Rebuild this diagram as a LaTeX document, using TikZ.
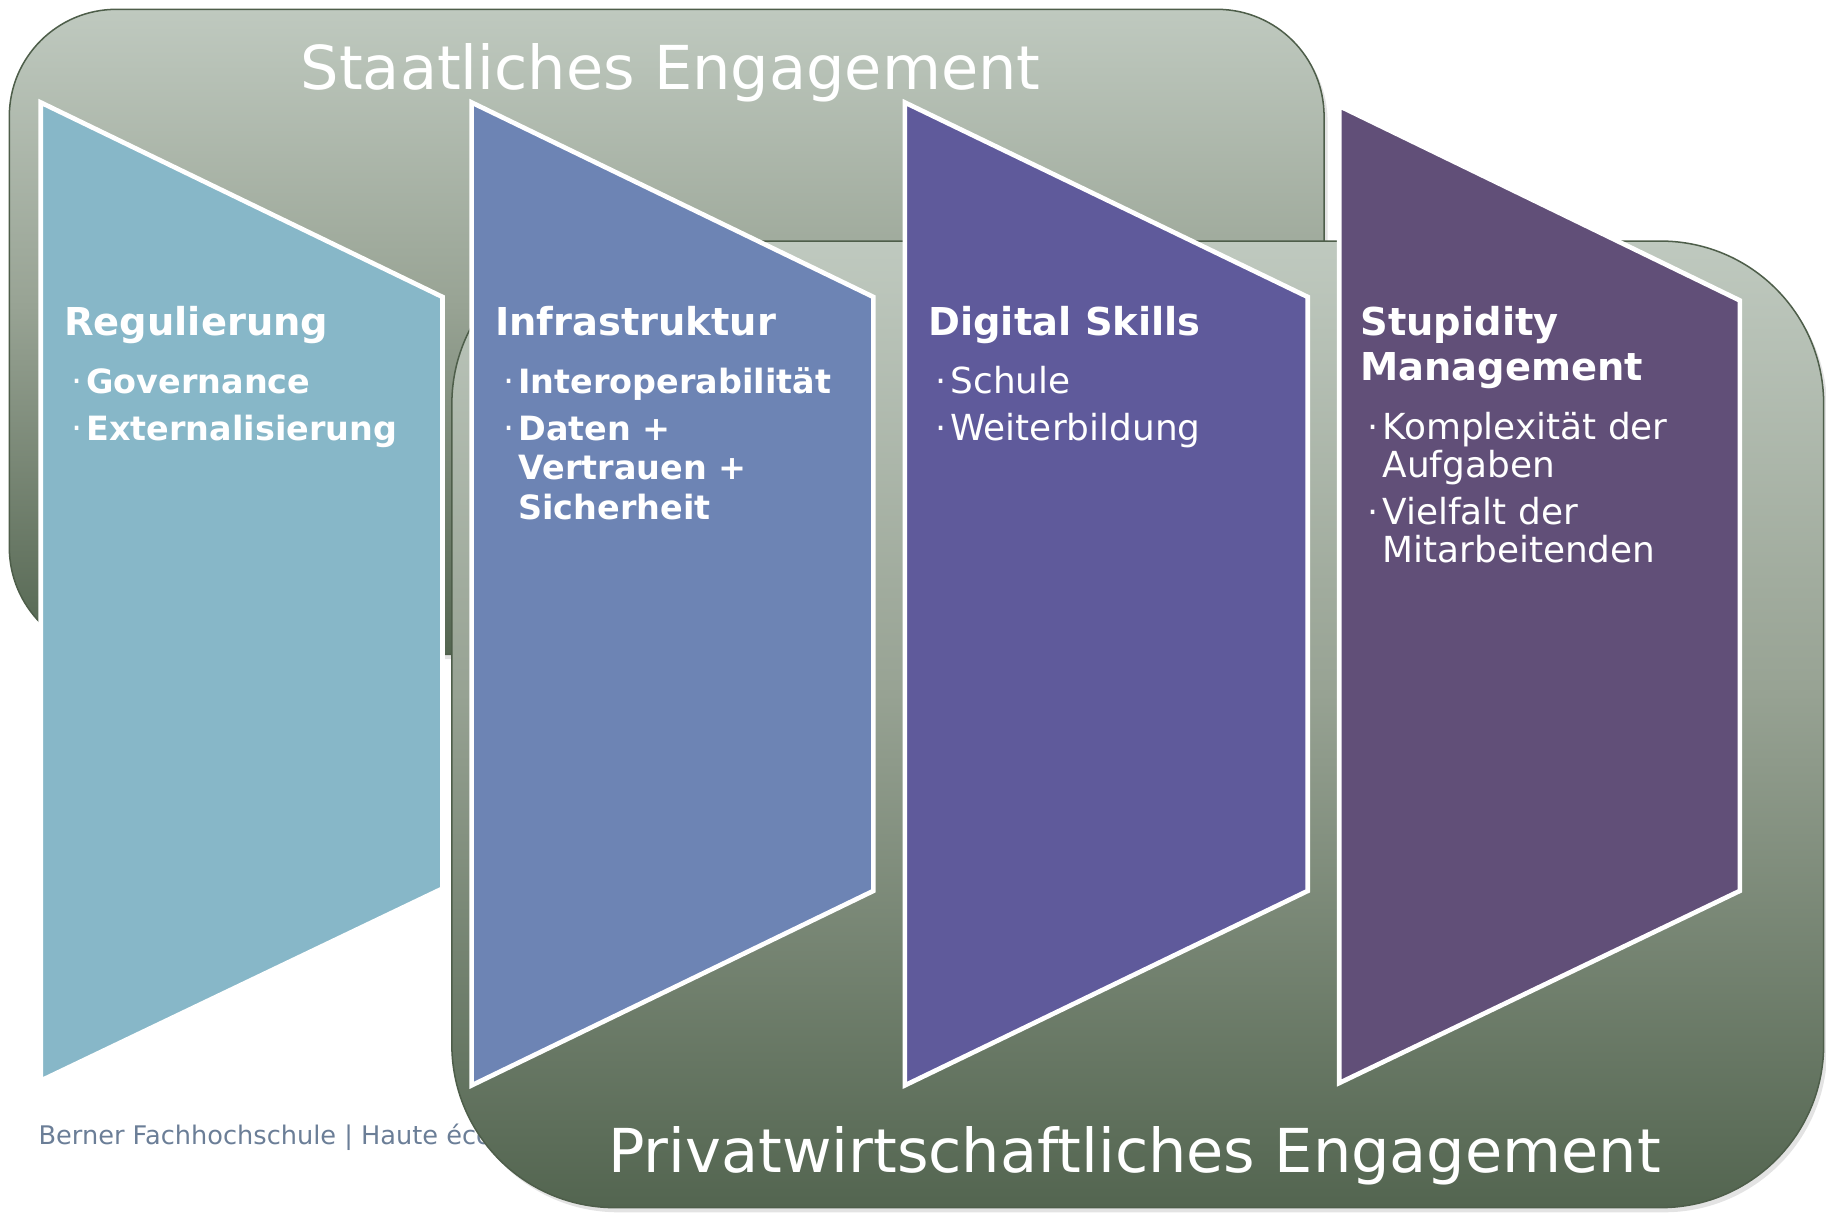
\documentclass[tikz,border=0pt]{standalone}
\usepackage{fontspec}
\setmainfont{DejaVu Sans}
\usetikzlibrary{shadows}
\definecolor{bxdark}{HTML}{536550}
\definecolor{bxmid}{HTML}{98A394}
\definecolor{bxlight}{HTML}{BFC9BF}
\definecolor{bxline}{HTML}{4E5E4A}
\definecolor{sone}{HTML}{87B7C8}
\definecolor{stwo}{HTML}{6D84B4}
\definecolor{sthree}{HTML}{5F5A9B}
\definecolor{sfour}{HTML}{614F78}
\definecolor{foot}{HTML}{6B7E97}
\pgfdeclareverticalshading{boxshade}{100bp}{color(0bp)=(bxdark); color(25bp)=(bxdark); color(52bp)=(bxmid); color(75bp)=(bxlight); color(100bp)=(bxlight)}
\tikzset{
  bgbox/.style={draw=bxline, line width=1.3pt, shading=boxshade,
    drop shadow={shadow xshift=3pt, shadow yshift=-4pt, opacity=0.22}},
  panel/.style={draw=white, line width=4pt, line join=miter},
  titletext/.style={anchor=base west, inner sep=0pt, text=white, font=\fontsize{52}{60}\selectfont},
  headtext/.style={anchor=base west, inner sep=0pt, text=white, font=\bfseries\fontsize{33}{38}\selectfont},
  itembold/.style={anchor=base west, inner sep=0pt, text=white, font=\bfseries\fontsize{28.7}{34}\selectfont},
  itemreg/.style={anchor=base west, inner sep=0pt, text=white, font=\fontsize{30.8}{34}\selectfont},
  foottext/.style={anchor=base west, inner sep=0pt, text=foot, font=\fontsize{22}{26}\selectfont}
}
\newcommand{\bul}{\makebox[13pt][l]{\mdseries\fontsize{30}{30}\selectfont·}}
\begin{document}
\begin{tikzpicture}[x=1pt,y=-1pt]
\useasboundingbox (0,0) rectangle (1568,1042);
% upper background box
\path[bgbox, rounded corners=92pt] (8,8) rectangle (1137,562);
\node[titletext] (t1) at (258,77) {Staatliches Engagement};
% footer (partly hidden)
\node[foottext] (ft) at (33,983) {Berner Fachhochschule | Haute école};
% lower background box
\path[bgbox, rounded corners=140pt] (388,207) rectangle (1566,1037);
\node[titletext] (t2) at (522,1007) {Privatwirtschaftliches Engagement};
% panels
\path[panel, fill=sone] (35,88) -- (380,255) -- (380,763) -- (35,928) -- cycle;
\path[panel, fill=stwo] (405,88) -- (750,255) -- (750,765) -- (405,932) -- cycle;
\path[panel, fill=sthree] (777,88) -- (1123,255) -- (1123,765) -- (777,932) -- cycle;
\path[panel, fill=sfour] (1150,91) -- (1494,258) -- (1494,765) -- (1150,930) -- cycle;
% panel 1
\node[headtext] (h1) at (55,288) {Regulierung};
\node[itembold] (a1) at (61,338) {\bul Governance};
\node[itembold] (a2) at (61,378) {\bul Externalisierung};
% panel 2
\node[headtext] (h2) at (425,288) {Infrastruktur};
\node[itembold] (b1) at (432,338) {\bul Interoperabilität};
\node[itembold] (b2) at (432,378) {\bul Daten +};
\node[itembold] (b3) at (445,412) {Vertrauen +};
\node[itembold] (b4) at (445,446) {Sicherheit};
% panel 3
\node[headtext] (h3) at (797,288) {Digital Skills};
\node[itemreg] (c1) at (803,338) {\bul Schule};
\node[itemreg] (c2) at (803,378) {\bul Weiterbildung};
% panel 4
\node[headtext] (h4a) at (1168,288) {Stupidity};
\node[headtext] (h4b) at (1168,327) {Management};
\node[itemreg] (d1) at (1174,377) {\bul Komplexität der};
\node[itemreg] (d2) at (1187,410) {Aufgaben};
\node[itemreg] (d3) at (1174,450) {\bul Vielfalt der};
\node[itemreg] (d4) at (1187,483) {Mitarbeitenden};
\end{tikzpicture}
\end{document}
